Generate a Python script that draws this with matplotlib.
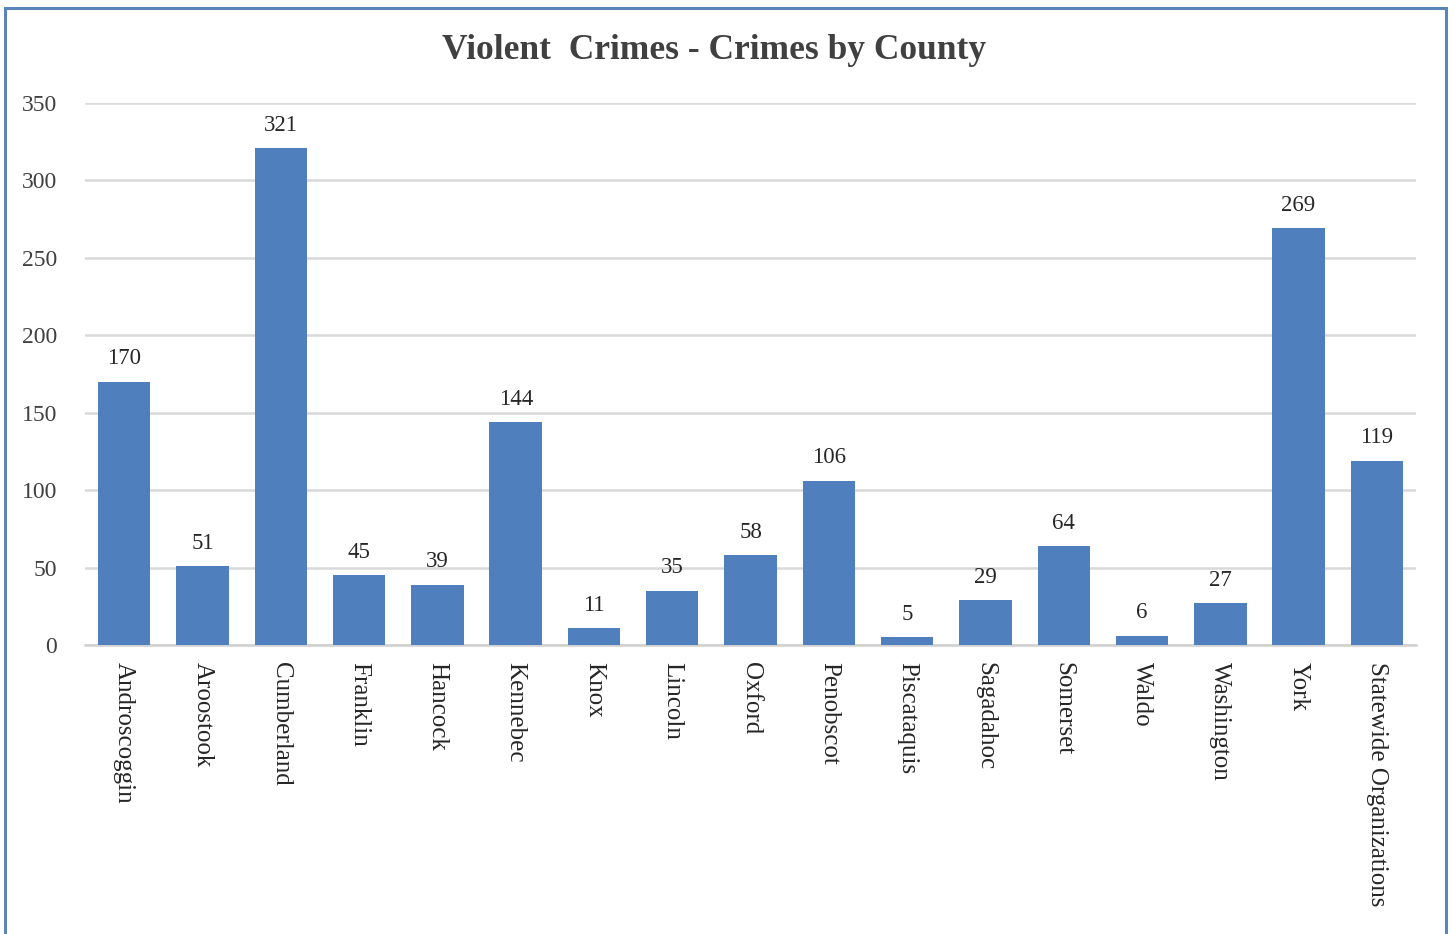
import numpy as np
import matplotlib.pyplot as plt
from matplotlib.patches import Rectangle

counties = ['Androscoggin', 'Aroostook', 'Cumberland', 'Franklin', 'Hancock',
            'Kennebec', 'Knox', 'Lincoln', 'Oxford', 'Penobscot', 'Piscataquis',
            'Sagadahoc', 'Somerset', 'Waldo', 'Washington', 'York',
            'Statewide Organizations']
crimes = [170, 51, 321, 45, 39, 144, 11, 35, 58, 106, 5, 29, 64, 6, 27, 269, 119]
yticks = [0, 50, 100, 150, 200, 250, 300, 350]

plt.rcParams['font.family'] = ['Liberation Serif', 'DejaVu Serif']

fig = plt.figure(figsize=(14.54, 9.34), dpi=100)
ax = fig.add_axes([0.0585, 0.3094, 0.9154, 0.5803])

x = np.arange(len(counties))
bars = ax.bar(x, crimes, width=0.67, color='#4f7fbc', zorder=3)

for xi, v in zip(x, crimes):
    ax.text(xi, v + 8, str(v), ha='center', va='bottom', fontsize=16.5, color='#262626')

ax.set_xlim(-0.5, len(counties) - 0.5)
ax.set_ylim(0, 350)
ax.set_yticks(yticks)
ax.set_yticklabels([str(t) for t in yticks], fontsize=17, color='#404040')
ax.set_xticks(x)
ax.set_xticklabels(counties, rotation=270, fontsize=18, color='#262626',
                   va='top', ha='center')
ax.tick_params(axis='both', length=0)
ax.tick_params(axis='x', pad=12)
ax.tick_params(axis='y', pad=20)
ax.grid(axis='y', color='#d9d9d9', linewidth=1.8, zorder=0)
for s in ['top', 'right', 'left']:
    ax.spines[s].set_visible(False)
ax.spines['bottom'].set_color('#d0d0d0')
ax.spines['bottom'].set_linewidth(1.8)

fig.text(0.4914, 0.946, 'Violent  Crimes - Crimes by County', ha='center', va='center',
         fontsize=25.5, fontweight='bold', color='#404040')

fig.patches.append(Rectangle((5 / 1454, -0.05), 1441 / 1454, 1.05 - 8 / 934,
                             transform=fig.transFigure, fill=False,
                             edgecolor='#5b84b8', linewidth=2.2))

fig.savefig('out.png', dpi=100)
